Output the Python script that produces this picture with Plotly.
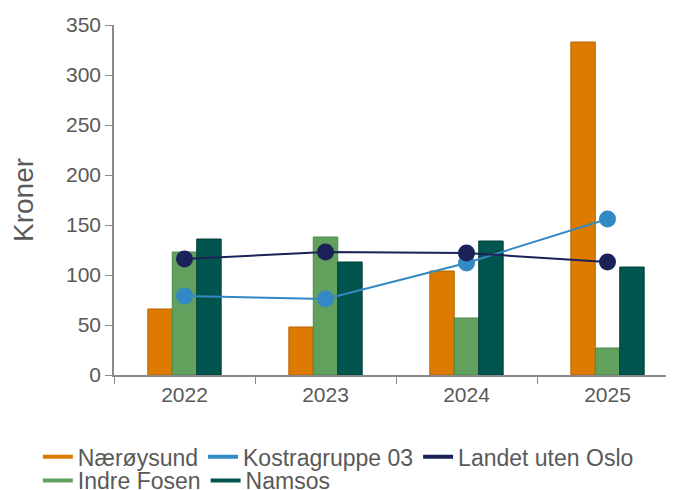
import plotly.graph_objects as go

years = ["2022", "2023", "2024", "2025"]
naeroysund = [66, 48, 104, 333]
indre_fosen = [123, 138, 57, 27]
namsos = [136, 113, 134, 108]
kostragruppe = [79, 76, 112, 156]
landet = [116, 123, 122, 113]

C_OR = "#DC7B00"
C_GR = "#62A05E"
C_TE = "#00564F"
C_BL = "#3389C3"
C_NV = "#1A2258"
FONT = "Liberation Sans, Arial, sans-serif"
TXT = "#595959"

fig = go.Figure()
for name, vals, col, edge in [("Nærøysund", naeroysund, C_OR, "#B86600"),
                              ("Indre Fosen", indre_fosen, C_GR, "#4C8A48"),
                              ("Namsos", namsos, C_TE, "#003F3A")]:
    fig.add_trace(go.Bar(x=years, y=vals, name=name, marker=dict(color=col, line=dict(color=edge, width=1)),
                         showlegend=False))

fig.add_trace(go.Scatter(x=years, y=kostragruppe, mode="lines+markers", name="Kostragruppe 03",
                         line=dict(color=C_BL, width=2), marker=dict(size=17, color=C_BL), showlegend=False))
fig.add_trace(go.Scatter(x=years, y=landet, mode="lines+markers", name="Landet uten Oslo",
                         line=dict(color=C_NV, width=2), marker=dict(size=17, color=C_NV), showlegend=False))

# legend entries
for name, col, lg in [("Nærøysund", C_OR, "legend"), ("Kostragruppe 03", C_BL, "legend"),
                      ("Landet uten Oslo", C_NV, "legend"), ("Indre Fosen", C_GR, "legend2"),
                      ("Namsos", C_TE, "legend2")]:
    fig.add_trace(go.Scatter(x=[None], y=[None], mode="lines", name=name, line=dict(color=col, width=4),
                             legend=lg, showlegend=True))

leg_common = dict(orientation="h", xanchor="left", yanchor="top", font=dict(family=FONT, size=23, color=TXT),
                  bgcolor="rgba(0,0,0,0)", itemwidth=30, traceorder="normal")
fig.update_layout(
    width=674, height=490,
    margin=dict(l=106, r=4, t=17, b=123, autoexpand=False),
    paper_bgcolor="white", plot_bgcolor="white",
    barmode="group", bargap=0.48, bargroupgap=0,
    font=dict(family=FONT, color=TXT),
    legend=dict(x=-0.135, y=-0.172, **leg_common),
    legend2=dict(x=-0.135, y=-0.24, **leg_common),
    xaxis=dict(type="category", range=[-0.5, 3.5], showline=True, linecolor="#8a8a8a", linewidth=1.5,
               ticks="outside", tickson="boundaries", ticklen=7, tickcolor="#8a8a8a", automargin=False,
               tickfont=dict(family=FONT, size=21, color=TXT), showgrid=False, zeroline=False),
    yaxis=dict(range=[0, 350], dtick=50, showline=True, linecolor="#8a8a8a", linewidth=1.5,
               ticks="outside", ticklen=7, tickcolor="#8a8a8a", showgrid=False, zeroline=False,
               automargin=False,
               tickfont=dict(family=FONT, size=21, color=TXT),
               title=dict(text="Kroner", font=dict(family=FONT, size=28, color=TXT), standoff=36)),
)
fig.write_html("out.html")
